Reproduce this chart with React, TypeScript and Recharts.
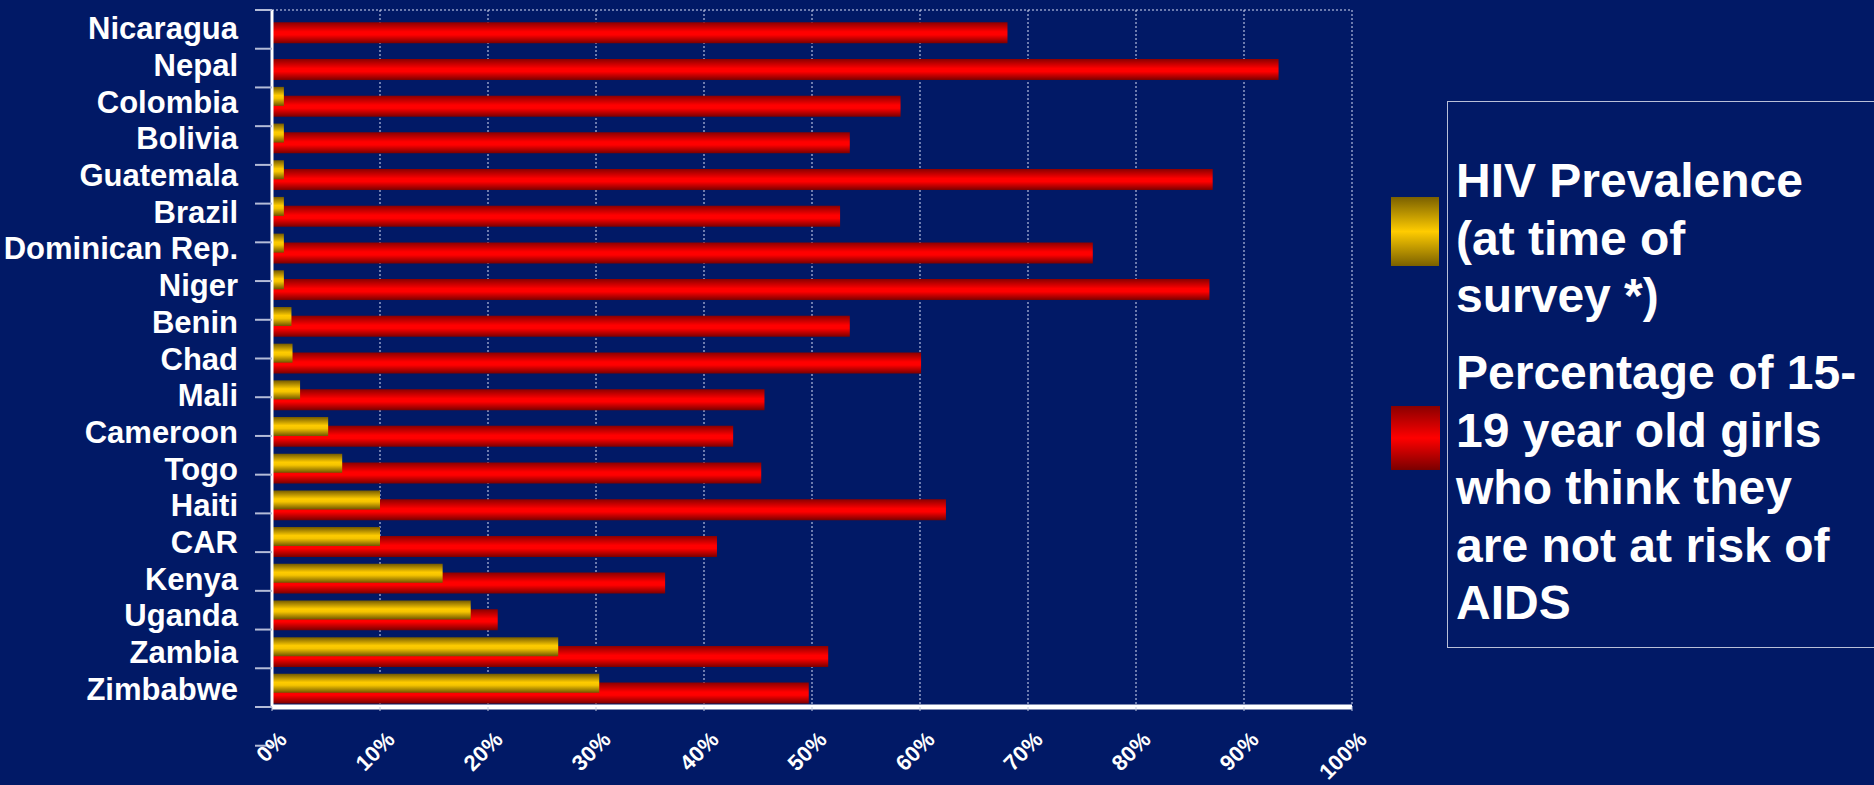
import { BarChart, Bar, XAxis, YAxis, CartesianGrid, Legend } from "recharts";

const countries = [
  "Nicaragua",
  "Nepal",
  "Colombia",
  "Bolivia",
  "Guatemala",
  "Brazil",
  "Dominican Rep.",
  "Niger",
  "Benin",
  "Chad",
  "Mali",
  "Cameroon",
  "Togo",
  "Haiti",
  "CAR",
  "Kenya",
  "Uganda",
  "Zambia",
  "Zimbabwe",
];

// HIV prevalence at time of survey (%)
const hivPrevalence = [0, 0, 1.1, 1.1, 1.1, 1.1, 1.1, 1.1, 1.8, 1.9, 2.6, 5.2, 6.5, 10, 10, 15.8, 18.4, 26.5, 30.3];

// % of 15-19 year old girls who think they are not at risk of AIDS
const notAtRisk = [68.1, 93.2, 58.2, 53.5, 87.1, 52.6, 76, 86.8, 53.5, 60.1, 45.6, 42.7, 45.3, 62.4, 41.2, 36.4, 20.9, 51.5, 49.7];

const xTicks = [0, 10, 20, 30, 40, 50, 60, 70, 80, 90, 100];

const hivLabel = ["HIV Prevalence", "(at time of", "survey *)"];
const riskLabel = ["Percentage of 15-", "19 year old girls", "who think they", "are not at risk of", "AIDS"];

const data = countries.map((country, i) => ({
  country,
  hiv: hivPrevalence[i],
  risk: notAtRisk[i],
}));

// band boundaries for the little tick marks left of the axis
const boundaryTicks = countries.map((_, i) => i).concat(countries.length);

const FONT = "'Liberation Sans', Arial, sans-serif";
const BG = "#011966";

function PctTick({ x, y, payload }: any) {
  const ax = x + 16;
  const ay = y + 28;
  return (
    <text
      x={ax}
      y={ay}
      transform={`rotate(-45 ${ax} ${ay})`}
      textAnchor="end"
      fill="#fff"
      fontSize={22}
      fontWeight="bold"
      fontFamily={FONT}
    >
      {payload.value}%
    </text>
  );
}

const NoTick = () => <g />;

function LegendBox() {
  const textStyle = {
    position: "absolute" as const,
    left: 66,
    color: "#fff",
    fontFamily: FONT,
    fontWeight: "bold" as const,
    fontSize: 48,
    lineHeight: "57.5px",
    whiteSpace: "nowrap" as const,
  };
  return (
    <div style={{ position: "relative", width: 484, height: 548 }}>
      <div
        style={{
          position: "absolute",
          left: 57,
          top: 0,
          width: 450,
          height: 545,
          border: "1.5px solid #b8bfd8",
        }}
      />
      <div
        style={{
          position: "absolute",
          left: 1,
          top: 96,
          width: 48,
          height: 69,
          background: "linear-gradient(#7a6000, #ffcc00 50%, #7a6000)",
        }}
      />
      <div
        style={{
          position: "absolute",
          left: 1,
          top: 305,
          width: 49,
          height: 64,
          background: "linear-gradient(#8a0000, #ff0000 50%, #7a0000)",
        }}
      />
      <div style={{ ...textStyle, top: 51 }}>
        {hivLabel.map((l) => (
          <div key={l}>{l}</div>
        ))}
      </div>
      <div style={{ ...textStyle, top: 243 }}>
        {riskLabel.map((l) => (
          <div key={l}>{l}</div>
        ))}
      </div>
    </div>
  );
}

export default function App() {
  return (
    <div style={{ position: "absolute", left: 0, top: 0, width: 1874, height: 785, background: BG }}>
      <BarChart
        width={1874}
        height={785}
        data={data}
        layout="vertical"
        margin={{ top: 10, right: 522, bottom: 0, left: 0 }}
      >
        <defs>
          <linearGradient id="goldBar" x1="0" y1="0" x2="0" y2="1">
            <stop offset="0%" stopColor="#745a00" />
            <stop offset="45%" stopColor="#ffcc00" />
            <stop offset="60%" stopColor="#f5c400" />
            <stop offset="100%" stopColor="#6e5600" />
          </linearGradient>
          <linearGradient id="redBar" x1="0" y1="0" x2="0" y2="1">
            <stop offset="0%" stopColor="#8a0000" />
            <stop offset="45%" stopColor="#ff0000" />
            <stop offset="60%" stopColor="#ff0000" />
            <stop offset="100%" stopColor="#7a0000" />
          </linearGradient>
        </defs>
        <CartesianGrid
          yAxisId="labels"
          stroke="#d8def5"
          strokeDasharray="2 2"
          vertical
          horizontalCoordinatesGenerator={({ offset }: any) => [offset.top]}
        />
        <XAxis
          type="number"
          domain={[0, 100]}
          ticks={xTicks}
          interval={0}
          height={78}
          axisLine={{ stroke: "#fff", strokeWidth: 5 }}
          tickLine={{ stroke: "#c0c8e0" }}
          tickSize={4}
          tickMargin={2}
          tick={<PctTick />}
        />
        <YAxis
          yAxisId="labels"
          type="category"
          dataKey="country"
          width={254}
          interval={0}
          axisLine={false}
          tickLine={false}
          tickSize={0}
          tickMargin={16}
          tick={{ fill: "#fff", fontSize: 31, fontWeight: "bold", fontFamily: FONT }}
        />
        <YAxis
          yAxisId="series_hiv"
          type="category"
          dataKey="country"
          hide
          width={0}
          padding={{ top: -5.5, bottom: 5.5 }}
        />
        <YAxis
          yAxisId="series_risk"
          type="category"
          dataKey="country"
          hide
          width={0}
          padding={{ top: 4.3, bottom: -4.3 }}
        />
        <YAxis
          yAxisId="axisTicks"
          type="number"
          domain={[0, countries.length]}
          ticks={boundaryTicks}
          interval={0}
          width={18}
          tick={NoTick}
          tickSize={17}
          axisLine={{ stroke: "#fff", strokeWidth: 3 }}
          tickLine={{ stroke: "#b4bcd8", strokeWidth: 2 }}
        />
        <Legend
          layout="vertical"
          align="center"
          verticalAlign="middle"
          wrapperStyle={{ left: 1390, top: 101, width: 484, height: 548 }}
          content={() => <LegendBox />}
        />
        <Bar
          dataKey="risk"
          yAxisId="series_risk"
          name="Percentage of 15-19 year old girls who think they are not at risk of AIDS"
          barSize={21}
          fill="url(#redBar)"
          isAnimationActive={false}
        />
        <Bar
          dataKey="hiv"
          yAxisId="series_hiv"
          name="HIV Prevalence (at time of survey *)"
          barSize={19}
          fill="url(#goldBar)"
          isAnimationActive={false}
        />
      </BarChart>
    </div>
  );
}
